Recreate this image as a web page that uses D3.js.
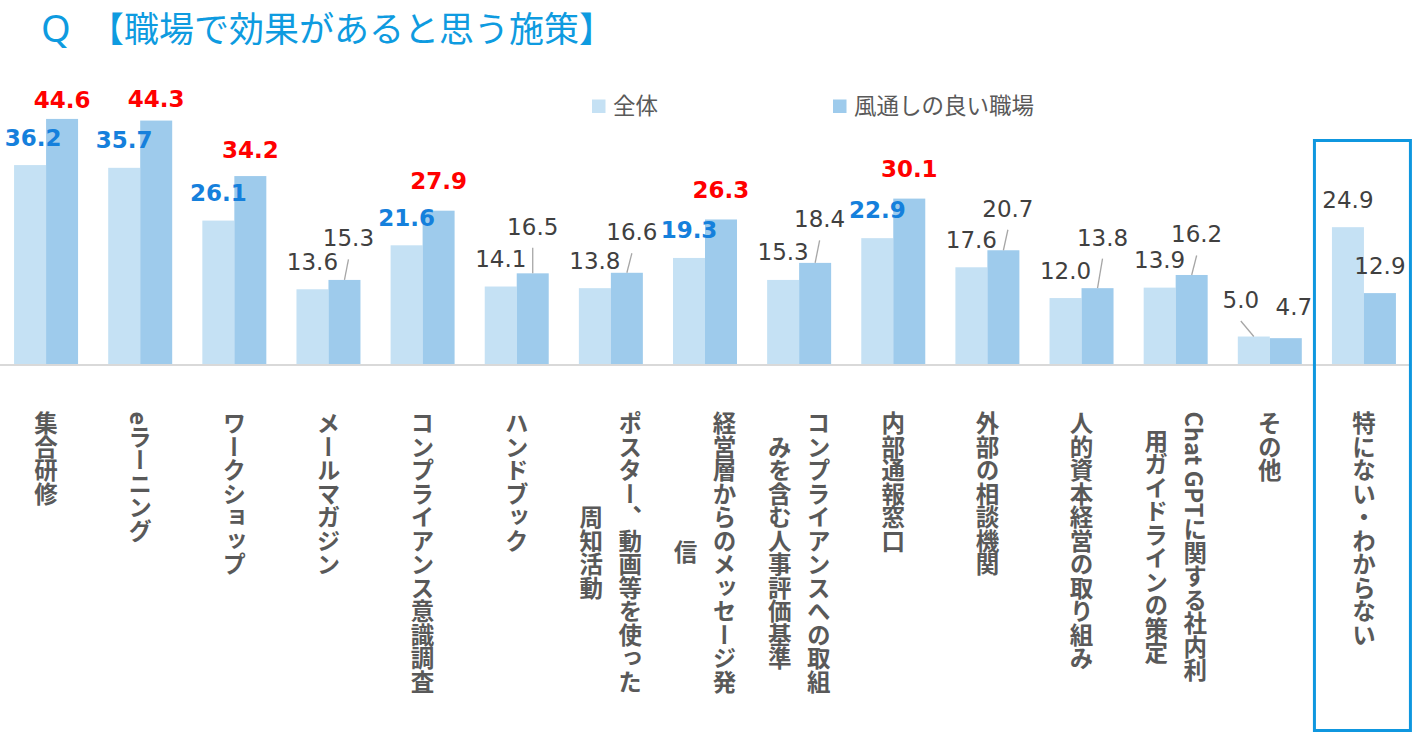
<!DOCTYPE html>
<html lang="ja"><head><meta charset="utf-8">
<script src="https://cdn.jsdelivr.net/npm/d3@7"></script>
<style>body{margin:0;background:#fff;overflow:hidden}</style>
</head><body>
<svg id="c" width="1422" height="741"></svg>
<script>
// ---- data ----
const titleQ = "Q";
const titleText = "【職場で効果があると思う施策】";
const seriesNames = ["全体", "風通しの良い職場"];
const categories = [
  "集合研修",
  "eラーニング",
  "ワークショップ",
  "メールマガジン",
  "コンプライアンス意識調査",
  "ハンドブック",
  "ポスター、動画等を使った\n周知活動",
  "経営層からのメッセージ発\n信",
  "コンプライアンスへの取組\nみを含む人事評価基準",
  "内部通報窓口",
  "外部の相談機関",
  "人的資本経営の取り組み",
  "Chat GPTに関する社内利\n用ガイドラインの策定",
  "その他",
  "特にない・わからない"
];
const valuesAll  = [36.2, 35.7, 26.1, 13.6, 21.6, 14.1, 13.8, 19.3, 15.3, 22.9, 17.6, 12.0, 13.9, 5.0, 24.9];
const valuesGood = [44.6, 44.3, 34.2, 15.3, 27.9, 16.5, 16.6, 26.3, 18.4, 30.1, 20.7, 13.8, 16.2, 4.7, 12.9];

// ---- layout (label nudges, px) ----
const nudgeAll  = [[3,0],[0,0],[0,0],[0,0],[0,0],[0,0],[0,0],[0,0],[0,0],[0,-1],[0,0],[0,0],[0,0],[-13,-9],[0,0]];
const nudgeGood = [[0,9],[0,6],[0,1],[4,-14],[0,-2],[0,-19],[5,-13],[0,-2],[4.5,-16],[0,-2],[4.5,-14],[5,-23],[5,-13],[8,-4],[0,0]];

const colLight = "#c5e1f4", colDark = "#9ecbec";
const colBlue = "#1580dc", colRed = "#ff0000", colGray = "#404040", colAxis = "#595959";
const colTitle = "#0e9be0";

const svg = d3.select("#c");

// title
svg.append("text").attr("x", 41).attr("y", 42)
  .attr("font-family", "'Noto Sans', sans-serif").attr("font-size", 38)
  .attr("fill", colTitle).text(titleQ);
svg.append("text").attr("x", 89).attr("y", 42)
  .attr("font-family", "'Noto Sans CJK JP', sans-serif").attr("font-size", 35)
  .attr("fill", colTitle).text(titleText);

// scales
const x = d3.scaleBand().domain(categories).range([-1, 1411]).paddingInner(0.3202).paddingOuter(0.1601);
const xs = d3.scaleBand().domain(seriesNames).range([0, x.bandwidth()]);
const y = d3.scaleLinear().domain([0, 50]).range([364, 364 - 50 * 5.495]);

// highlight: top 6 of 風通し series
const sortedGood = valuesGood.slice().sort((a, b) => b - a);
const hiThresh = sortedGood[5];
const isHi = i => valuesGood[i] >= hiThresh;

// bars
const rows = categories.map((c, i) => ({c, i, vals: [valuesAll[i], valuesGood[i]]}));
const g = svg.append("g");
const grp = g.selectAll("g.grp").data(rows).join("g").attr("class", "grp")
  .attr("transform", d => `translate(${x(d.c)},0)`);
grp.selectAll("rect").data(d => d.vals.map((v, k) => ({v, k}))).join("rect")
  .attr("x", d => xs(seriesNames[d.k]))
  .attr("width", xs.bandwidth())
  .attr("y", d => y(d.v))
  .attr("height", d => y(0) - y(d.v))
  .attr("fill", d => d.k === 0 ? colLight : colDark);

// axis
const axisG = svg.append("g").attr("transform", "translate(0,364.5)")
  .call(d3.axisBottom(x).tickSize(0).tickSizeOuter(0).tickFormat(""));
axisG.select(".domain").attr("stroke", "#d9d9d9").attr("stroke-width", 2);
axisG.selectAll(".tick text").remove();
axisG.selectAll(".tick").each(function(d) {
  const t = d3.select(this);
  const lines = d.split("\n");
  const top = 47;
  const mk = (str, dx) => t.append("text")
    .attr("x", dx).attr("y", top)
    .attr("text-anchor", "start")
    .attr("font-family", "'Noto Sans CJK JP', sans-serif")
    .attr("font-size", 23.5).attr("font-weight", "bold")
    .attr("fill", colAxis)
    .style("writing-mode", "vertical-rl")
    .text(str);
  if (lines.length === 1) {
    mk(lines[0], 0);
  } else {
    const t1 = mk(lines[0], 19.5);
    let len = t1.node().getComputedTextLength();
    if (!len) len = lines[0].length * 23.5;
    mk(lines[1], -19.5).attr("y", top + len / 2).attr("text-anchor", "middle");
  }
});

// value labels
const labG = svg.append("g");
rows.forEach(r => {
  [0, 1].forEach(k => {
    const v = r.vals[k];
    const nd = (k === 0 ? nudgeAll : nudgeGood)[r.i];
    const cx = x(r.c) + xs(seriesNames[k]) + xs.bandwidth() / 2;
    const top = y(v);
    const lx = cx + nd[0];
    const base = top - 19.5 + nd[1];
    const hi = isHi(r.i);
    const gap = top - base;
    if (gap > 26) {
      labG.append("line").attr("x1", lx).attr("y1", base + 13).attr("x2", cx).attr("y2", top)
        .attr("stroke", "#a6a6a6").attr("stroke-width", 1.3);
    }
    labG.append("text").attr("x", lx).attr("y", base)
      .attr("text-anchor", "middle")
      .attr("font-family", "'DejaVu Sans', Verdana, sans-serif")
      .attr("font-size", 23)
      .attr("font-weight", hi ? "bold" : "normal")
      .attr("fill", hi ? (k === 0 ? colBlue : colRed) : colGray)
      .text(v.toFixed(1));
  });
});

// legend
const legX = [592, 833];
seriesNames.forEach((s, k) => {
  svg.append("rect").attr("x", legX[k]).attr("y", 99.5).attr("width", 13.5).attr("height", 13.5)
    .attr("fill", k === 0 ? colLight : colDark);
  svg.append("text").attr("x", legX[k] + 21).attr("y", 113.5)
    .attr("font-family", "'Noto Sans CJK JP', sans-serif").attr("font-size", 22.5)
    .attr("fill", "#595959").text(s);
});

// highlight box around last category
const last = categories[categories.length - 1];
svg.append("rect")
  .attr("x", x(last) - 17.5).attr("y", 140.5)
  .attr("width", x.bandwidth() + 32).attr("height", 590)
  .attr("fill", "none").attr("stroke", "#0f97df").attr("stroke-width", 3);
</script>
</body></html>
